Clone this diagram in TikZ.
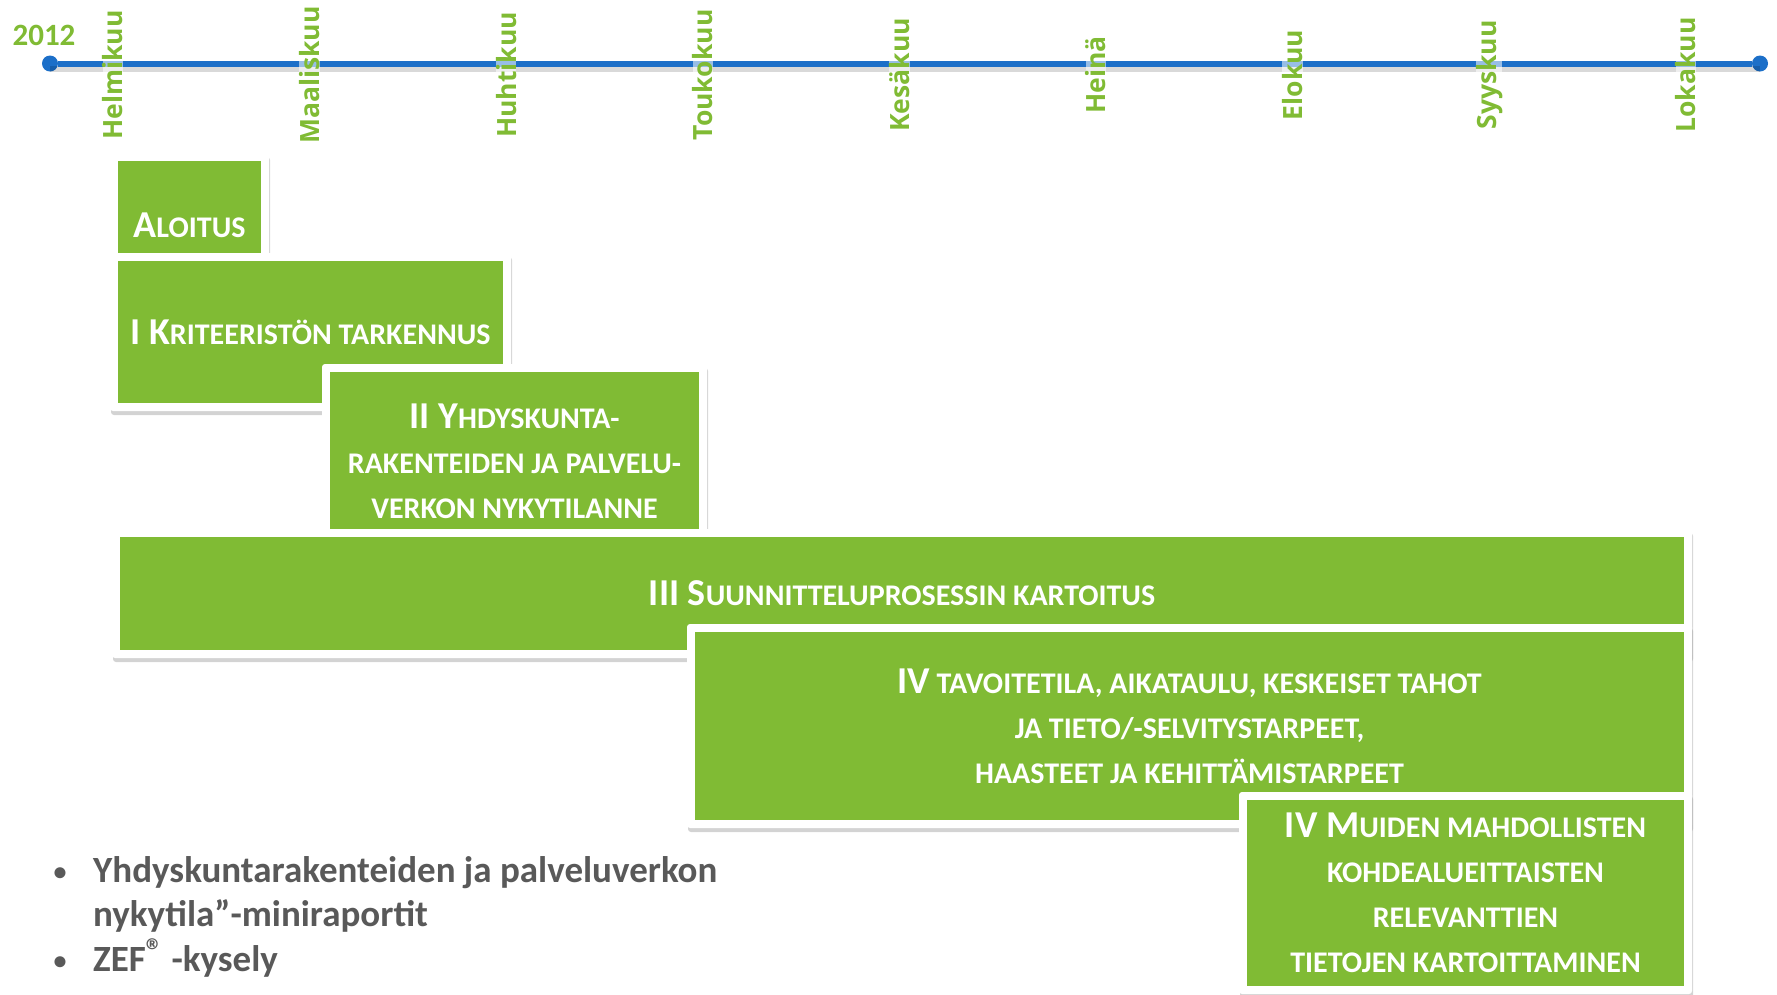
\documentclass[tikz,border=0pt]{standalone}
\usepackage{fontspec}
\setmainfont{Carlito}
\newfontfamily\monthfont{Open Sans}
\usetikzlibrary{positioning,shadows}
\definecolor{phasegreen}{RGB}{128,187,52}
\definecolor{lineblue}{RGB}{28,111,200}
\definecolor{textgray}{RGB}{89,89,89}
\newcommand\bigletter[1]{{\fontsize{38}{46}\selectfont #1}}
\tikzstyle{dot}=[circle,inner sep=0pt,minimum size=16pt,fill=lineblue]
\tikzstyle{timeline}=[line width=6pt,draw=lineblue]
\tikzstyle{year}=[text=phasegreen,font=\bfseries\fontsize{31}{31}\selectfont]
\tikzstyle{month}=[rotate=90,text=phasegreen,font=\monthfont\bfseries\fontsize{26.5}{26.5}\selectfont,fill=white,fill opacity=0.55,text opacity=1,inner xsep=2pt,inner ysep=0pt]
\tikzstyle{frame}=[fill=white,rounded corners=3pt,inner sep=0pt,drop shadow={shadow xshift=1pt,shadow yshift=-4pt,opacity=0.35}]
\tikzstyle{phase}=[fill=phasegreen,text=white,inner sep=0pt,align=center,font=\bfseries\fontsize{30}{45}\selectfont]
\tikzstyle{bullettext}=[text=textgray,inner sep=0pt,font=\bfseries\fontsize{37}{44}\selectfont]
\tikzstyle{bulletmark}=[text=textgray,inner sep=0pt,font=\bfseries\fontsize{26}{26}\selectfont]

\begin{document}
\begin{tikzpicture}[x=1pt,y=-1pt]
  \useasboundingbox (0,0) rectangle (1777,994);
  \clip (0,0) rectangle (1777,994);

  % timeline
  \node [dot] (start) at (50, 63.5) {};
  \node [dot] (end) at (1760, 63.5) {};
  \draw [line width=6pt, black, opacity=0.15] ([yshift=-5pt]start.center) -- ([yshift=-5pt]end.center);
  \draw [timeline] (start) -- (end);
  \node [year] (year) at (44, 35) {2012};
  \foreach \m [count=\i from 0] in {Helmikuu,Maaliskuu,Huhtikuu,Toukokuu,Kesäkuu,Heinä,Elokuu,Syyskuu,Lokakuu}
    \node [month] (m\i) at (113+196.6*\i, 75) {\m};

  % phases
  \node [frame, minimum width=159pt, minimum height=144pt] (f0) at (189.5, 225) {};
  \node [phase, minimum width=143pt, minimum height=128pt] (aloitus) at (f0) {\bigletter{A}LOITUS};

  \node [frame, minimum width=401pt, minimum height=158pt] (f1) at (310.5, 332) {};
  \node [phase, minimum width=385pt, minimum height=142pt] (kriteeri) at (f1) {\bigletter{I K}RITEERISTÖN TARKENNUS};

  \node [frame, minimum width=385pt, minimum height=194pt] (f2) at (514.5, 461) {};
  \node [phase, minimum width=369pt, minimum height=178pt] (nykytila) at (f2) {\bigletter{II Y}HDYSKUNTA-\\RAKENTEIDEN JA PALVELU-\\VERKON NYKYTILANNE};

  \node [frame, minimum width=1580pt, minimum height=129pt] (f3) at (902, 593.5) {};
  \node [phase, minimum width=1564pt, minimum height=113pt] (prosessi) at (f3) {\bigletter{III S}UUNNITTELUPROSESSIN KARTOITUS};

  \node [frame, minimum width=1005pt, minimum height=204pt] (f4) at (1189.5, 726) {};
  \node [phase, minimum width=989pt, minimum height=188pt] (tavoite) at (f4) {\bigletter{IV} TAVOITETILA, AIKATAULU, KESKEISET TAHOT\\JA TIETO/-SELVITYSTARPEET,\\HAASTEET JA KEHITTÄMISTARPEET};

  \node [frame, minimum width=453pt, minimum height=202pt] (f5) at (1465.5, 893) {};
  \node [phase, minimum width=437pt, minimum height=186pt] (muut) at (f5) {\bigletter{IV M}UIDEN MAHDOLLISTEN\\KOHDEALUEITTAISTEN\\RELEVANTTIEN\\TIETOJEN KARTOITTAMINEN};

  % bullets
  \node [bullettext, anchor=base west] (b1) at (93, 882) {Yhdyskuntarakenteiden ja palveluverkon};
  \node [bullettext, anchor=base west] (b2) at (93, 926) {nykytila”-miniraportit};
  \node [bullettext, anchor=base west] (b3) at (93, 971) {ZEF\raisebox{9pt}{\fontsize{34}{34}\selectfont ®} -kysely};
  \node [bulletmark, anchor=base] (d1) at (60, 880) {•};
  \node [bulletmark, anchor=base] (d3) at (60, 969) {•};
\end{tikzpicture}
\end{document}
